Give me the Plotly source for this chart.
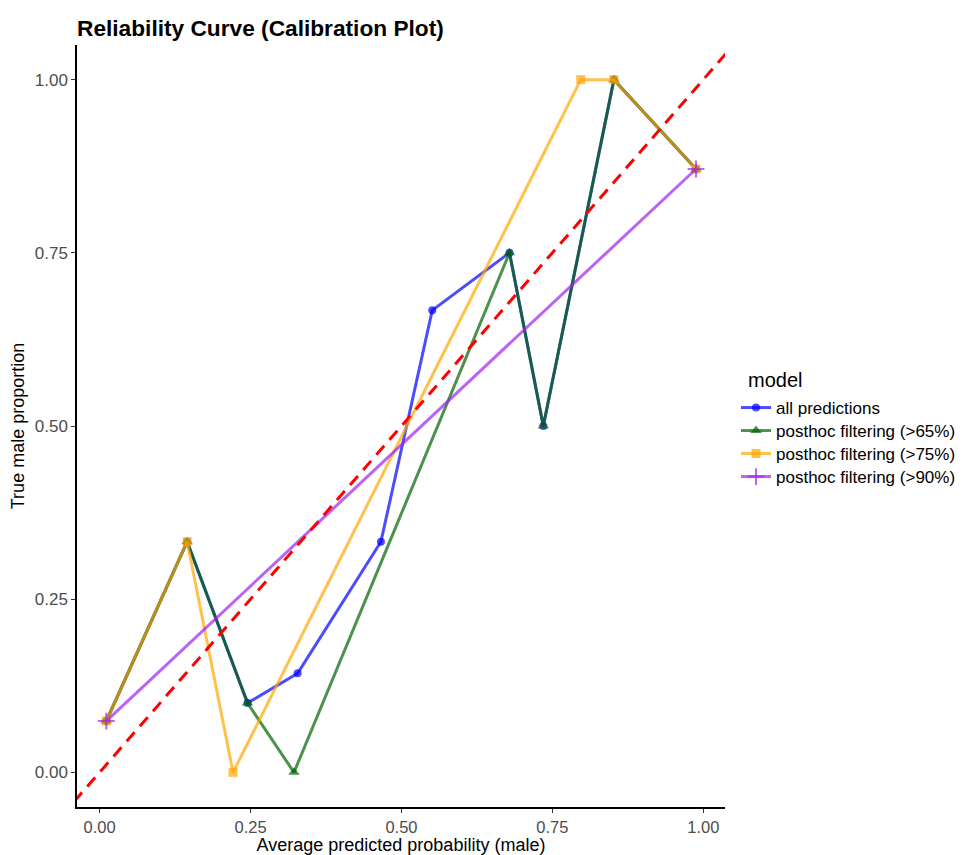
import plotly.graph_objects as go

# ---------------- data ----------------
x_all = [0.011, 0.145, 0.245, 0.328, 0.466, 0.551, 0.679, 0.735, 0.852, 0.988]
y_all = [0.074, 0.333, 0.100, 0.143, 0.333, 0.667, 0.750, 0.500, 1.000, 0.871]

x_65 = [0.011, 0.145, 0.245, 0.322, 0.679, 0.735, 0.852, 0.988]
y_65 = [0.074, 0.333, 0.100, 0.000, 0.750, 0.500, 1.000, 0.871]

x_75 = [0.011, 0.145, 0.221, 0.797, 0.852, 0.988]
y_75 = [0.074, 0.333, 0.000, 1.000, 1.000, 0.871]

x_90 = [0.011, 0.988]
y_90 = [0.074, 0.871]

series_names = ["all predictions", "posthoc filtering (>65%)",
                "posthoc filtering (>75%)", "posthoc filtering (>90%)"]

# identity reference line y = x (extends beyond the visible range, clipped)
ref_line = [-1.0, 2.0]

tick_vals = [0.0, 0.25, 0.5, 0.75, 1.0]
tick_text = ["0.00", "0.25", "0.50", "0.75", "1.00"]

# ---------------- style ----------------
FONT = "Liberation Sans, Arial, sans-serif"
OFF = 8  # default page body margin
W, H = 966 - OFF, 855 - OFF
ML, MT = 77 - OFF, 45 - OFF
PR, PB = 725 - OFF, 807 - OFF
MR, MB = W - PR, H - PB
PW, PH = PR - ML, PB - MT


def px_x(px):
    return (px - OFF - ML) / PW


def px_y(py):
    return (PB - (py - OFF)) / PH


colors = ["rgba(0,0,255,0.7)", "rgba(0,100,0,0.7)",
          "rgba(255,165,0,0.7)", "rgba(160,32,240,0.7)"]
symbols = ["circle", "triangle-up", "square", "cross-thin"]
sizes = [8, 10, 9, 12]
legend_rows = [408, 431, 454, 477]
legend_ids = ["legend", "legend2", "legend3", "legend4"]

fig = go.Figure()

series = [(x_all, y_all), (x_65, y_65), (x_75, y_75), (x_90, y_90)]
for (xs, ys), name, col, sym, sz, lid in zip(series, series_names, colors, symbols,
                                              sizes, legend_ids):
    marker = dict(symbol=sym, size=sz, color=col)
    if sym == "cross-thin":
        marker = dict(symbol=sym, size=sz, color=col, line=dict(color=col, width=2))
    fig.add_trace(go.Scatter(
        x=xs, y=ys, mode="lines+markers", name=name, legend=lid,
        line=dict(color=col, width=3),
        marker=marker,
    ))

fig.add_trace(go.Scatter(
    x=ref_line, y=ref_line, mode="lines", showlegend=False, hoverinfo="skip",
    line=dict(color="red", width=3, dash="12px,8px"),
))

legend_layout = {}
for lid, row in zip(legend_ids, legend_rows):
    legend_layout[lid] = dict(font=dict(size=17, color="black", family=FONT),
                              x=px_x(736), xanchor="left",
                              y=px_y(row), yanchor="middle",
                              bgcolor="rgba(0,0,0,0)", borderwidth=0)

fig.update_layout(
    width=W, height=H,
    margin=dict(l=ML, r=MR, t=MT, b=MB, autoexpand=False),
    paper_bgcolor="white", plot_bgcolor="white",
    font=dict(family=FONT, color="black"),
    title=dict(text="<b>Reliability Curve (Calibration Plot)</b>",
               x=ML / W, xanchor="left", y=1 - (28 - OFF) / H, yanchor="middle",
               font=dict(size=22.7, color="black", family=FONT)),
    showlegend=True,
    annotations=[dict(text="model", xref="paper", yref="paper",
                      x=px_x(746), xanchor="left",
                      y=px_y(380), yanchor="middle",
                      showarrow=False, font=dict(size=20, color="black", family=FONT))],
    **legend_layout,
)

fig.update_xaxes(
    range=[-0.0375, 1.036], tickvals=tick_vals, ticktext=tick_text, automargin=False,
    showgrid=False, zeroline=False, showline=True, linecolor="black", linewidth=1.5,
    ticks="outside", ticklen=4, tickwidth=1.2, tickcolor="#333333",
    tickfont=dict(size=16.5, color="#4d4d4d", family=FONT),
    title=dict(text="Average predicted probability (male)",
               font=dict(size=18, color="black", family=FONT), standoff=3),
)
fig.update_yaxes(
    range=[-0.05, 1.05], tickvals=tick_vals, ticktext=tick_text, automargin=False,
    showgrid=False, zeroline=False, showline=True, linecolor="black", linewidth=1.5,
    ticks="outside", ticklen=4, tickwidth=1.2, tickcolor="#333333",
    tickfont=dict(size=17, color="#4d4d4d", family=FONT),
    title=dict(text="True male proportion",
               font=dict(size=18, color="black", family=FONT), standoff=6),
)

fig.write_html("out.html")
